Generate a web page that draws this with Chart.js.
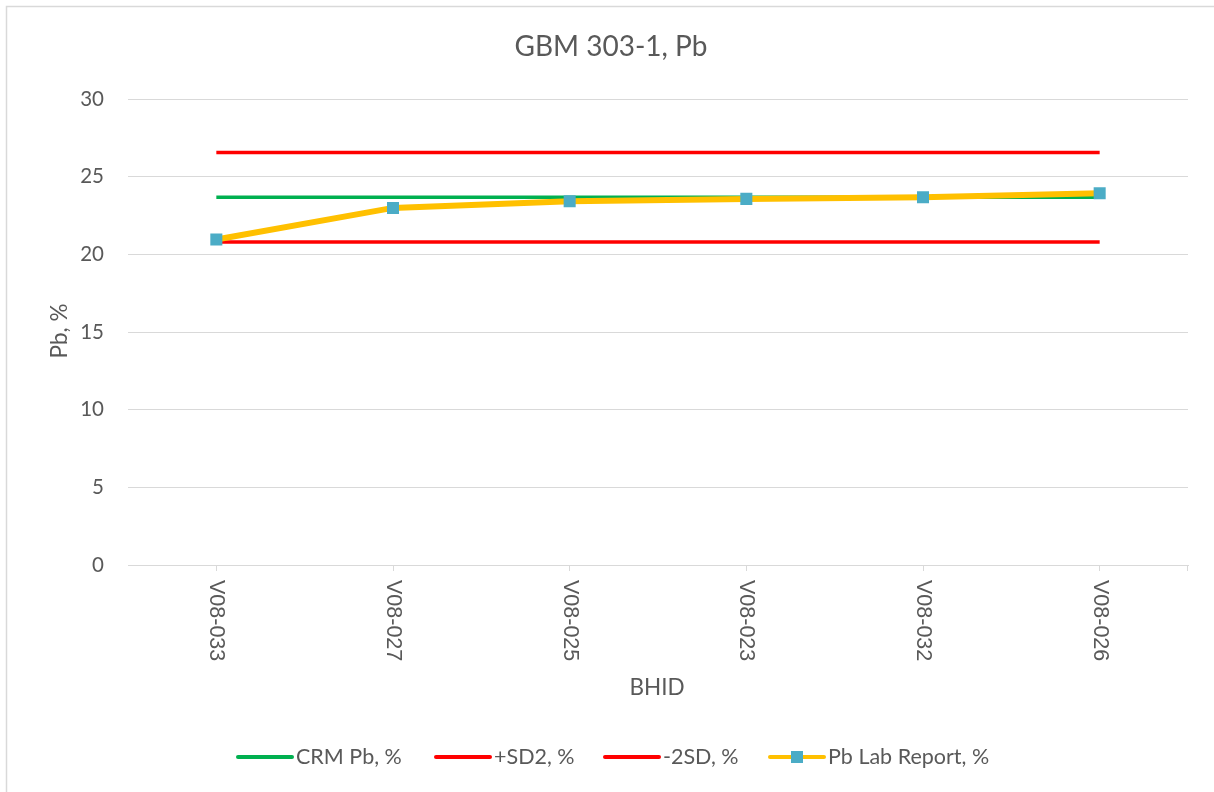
<!DOCTYPE html>
<html>
<head>
<meta charset="utf-8">
<script src="https://cdn.jsdelivr.net/npm/chart.js@4"></script>
<style>
  html, body { margin: 0; padding: 0; background: #fff; overflow: hidden; }
  #wrap { width: 1214px; height: 792px; position: relative; }
</style>
</head>
<body>
<div id="wrap"><canvas id="chart" width="1214" height="792"></canvas></div>
<script>
// start: data
const categories = ['V08-033', 'V08-027', 'V08-025', 'V08-023', 'V08-032', 'V08-026']
const crmPb = [23.68, 23.68, 23.68, 23.68, 23.68, 23.68]
const plusSD2 = [26.55, 26.55, 26.55, 26.55, 26.55, 26.55]
const minus2SD = [20.8, 20.8, 20.8, 20.8, 20.8, 20.8]
const labReport = [20.95, 22.99, 23.42, 23.57, 23.67, 23.93]
const yTicks = [0, 5, 10, 15, 20, 25, 30]
// end: data

const grey = '#595959'
const gridGrey = '#d9d9d9'

// frame, title, rotated x labels, axis titles and legend
const decorPlugin = {
    id: 'decor',
    beforeDraw: function (chart) {
        const ctx = chart.ctx
        ctx.save()
        ctx.strokeStyle = gridGrey
        ctx.lineWidth = 1.5
        ctx.strokeRect(6.5, 6.5, 1400, 1000)
        ctx.restore()
    },
    afterDraw: function (chart) {
        const ctx = chart.ctx
        const x = chart.scales.x
        const area = chart.chartArea
        ctx.save()

        // title
        ctx.fillStyle = grey
        ctx.font = '28px Lato'
        ctx.textAlign = 'center'
        ctx.textBaseline = 'middle'
        ctx.fillText('GBM 303-1, Pb', 611, 47)

        // extra tick at the right end of x axis
        ctx.strokeStyle = gridGrey
        ctx.lineWidth = 1
        ctx.beginPath()
        ctx.moveTo(area.right - 0.5, area.bottom)
        ctx.lineTo(area.right - 0.5, area.bottom + 6)
        ctx.stroke()

        // x labels rotated clockwise
        ctx.font = '21.5px "Liberation Sans"'
        ctx.textAlign = 'left'
        ctx.textBaseline = 'middle'
        categories.forEach(function (label, i) {
            const px = x.getPixelForValue(i)
            ctx.save()
            ctx.translate(px, area.bottom + 15)
            ctx.rotate(Math.PI / 2)
            ctx.fillText(label, 0, 0)
            ctx.restore()
        })

        // axis titles
        ctx.font = '22.5px Lato'
        ctx.textAlign = 'center'
        ctx.fillText('BHID', 657, 688)
        ctx.save()
        ctx.translate(60, 331)
        ctx.rotate(-Math.PI / 2)
        ctx.fillText('Pb, %', 0, 0)
        ctx.restore()

        // legend
        const items = [
            { ds: 0, x: 238 },
            { ds: 1, x: 436 },
            { ds: 2, x: 605 },
            { ds: 3, x: 770 }
        ]
        const ly = 757
        ctx.font = '21.5px Lato'
        ctx.textAlign = 'left'
        items.forEach(function (item) {
            const ds = chart.data.datasets[item.ds]
            ctx.strokeStyle = ds.borderColor
            ctx.lineWidth = 4
            ctx.lineCap = 'round'
            ctx.beginPath()
            ctx.moveTo(item.x, ly)
            ctx.lineTo(item.x + 54, ly)
            ctx.stroke()
            if (ds.pointRadius > 0) {
                ctx.fillStyle = ds.pointBackgroundColor
                ctx.fillRect(item.x + 21, ly - 6, 12, 12)
            }
            ctx.fillStyle = grey
            ctx.fillText(ds.label, item.x + 58, ly)
        })
        ctx.restore()
    }
}

new Chart(document.getElementById('chart'), {
    type: 'line',
    data: {
        labels: categories,
        datasets: [
            {
                label: 'CRM Pb, %',
                data: crmPb,
                borderColor: '#00b050',
                borderWidth: 3.5,
                pointRadius: 0,
                order: 3
            },
            {
                label: '+SD2, %',
                data: plusSD2,
                borderColor: '#ff0000',
                borderWidth: 3.5,
                pointRadius: 0,
                order: 2
            },
            {
                label: '-2SD, %',
                data: minus2SD,
                borderColor: '#ff0000',
                borderWidth: 3.5,
                pointRadius: 0,
                order: 2
            },
            {
                label: 'Pb Lab Report, %',
                data: labReport,
                borderColor: '#ffc000',
                borderWidth: 6,
                pointStyle: 'rect',
                pointRadius: 8.5,
                pointHoverRadius: 8.5,
                pointBackgroundColor: '#4bacc6',
                pointBorderColor: '#4bacc6',
                pointBorderWidth: 0,
                order: 0
            }
        ]
    },
    options: {
        responsive: false,
        animation: false,
        devicePixelRatio: 1,
        layout: {
            padding: { left: 0, top: 99, right: 26, bottom: 0 }
        },
        plugins: {
            legend: { display: false },
            title: { display: false },
            tooltip: { enabled: false }
        },
        scales: {
            x: {
                offset: true,
                grid: {
                    offset: false,
                    drawOnChartArea: false,
                    drawTicks: true,
                    tickLength: 6,
                    color: gridGrey
                },
                border: { display: true, color: gridGrey },
                ticks: { display: false },
                afterFit: function (scale) { scale.height = 227 }
            },
            y: {
                min: 0,
                max: 30,
                afterBuildTicks: function (scale) {
                    scale.ticks = yTicks.map(function (v) { return { value: v } })
                },
                grid: { color: gridGrey, lineWidth: 1, drawTicks: false },
                border: { display: false },
                ticks: {
                    color: grey,
                    font: { family: 'Lato', size: 20.5 },
                    padding: 24
                },
                afterFit: function (scale) { scale.width = 128 }
            }
        }
    },
    plugins: [decorPlugin]
})
</script>
</body>
</html>
